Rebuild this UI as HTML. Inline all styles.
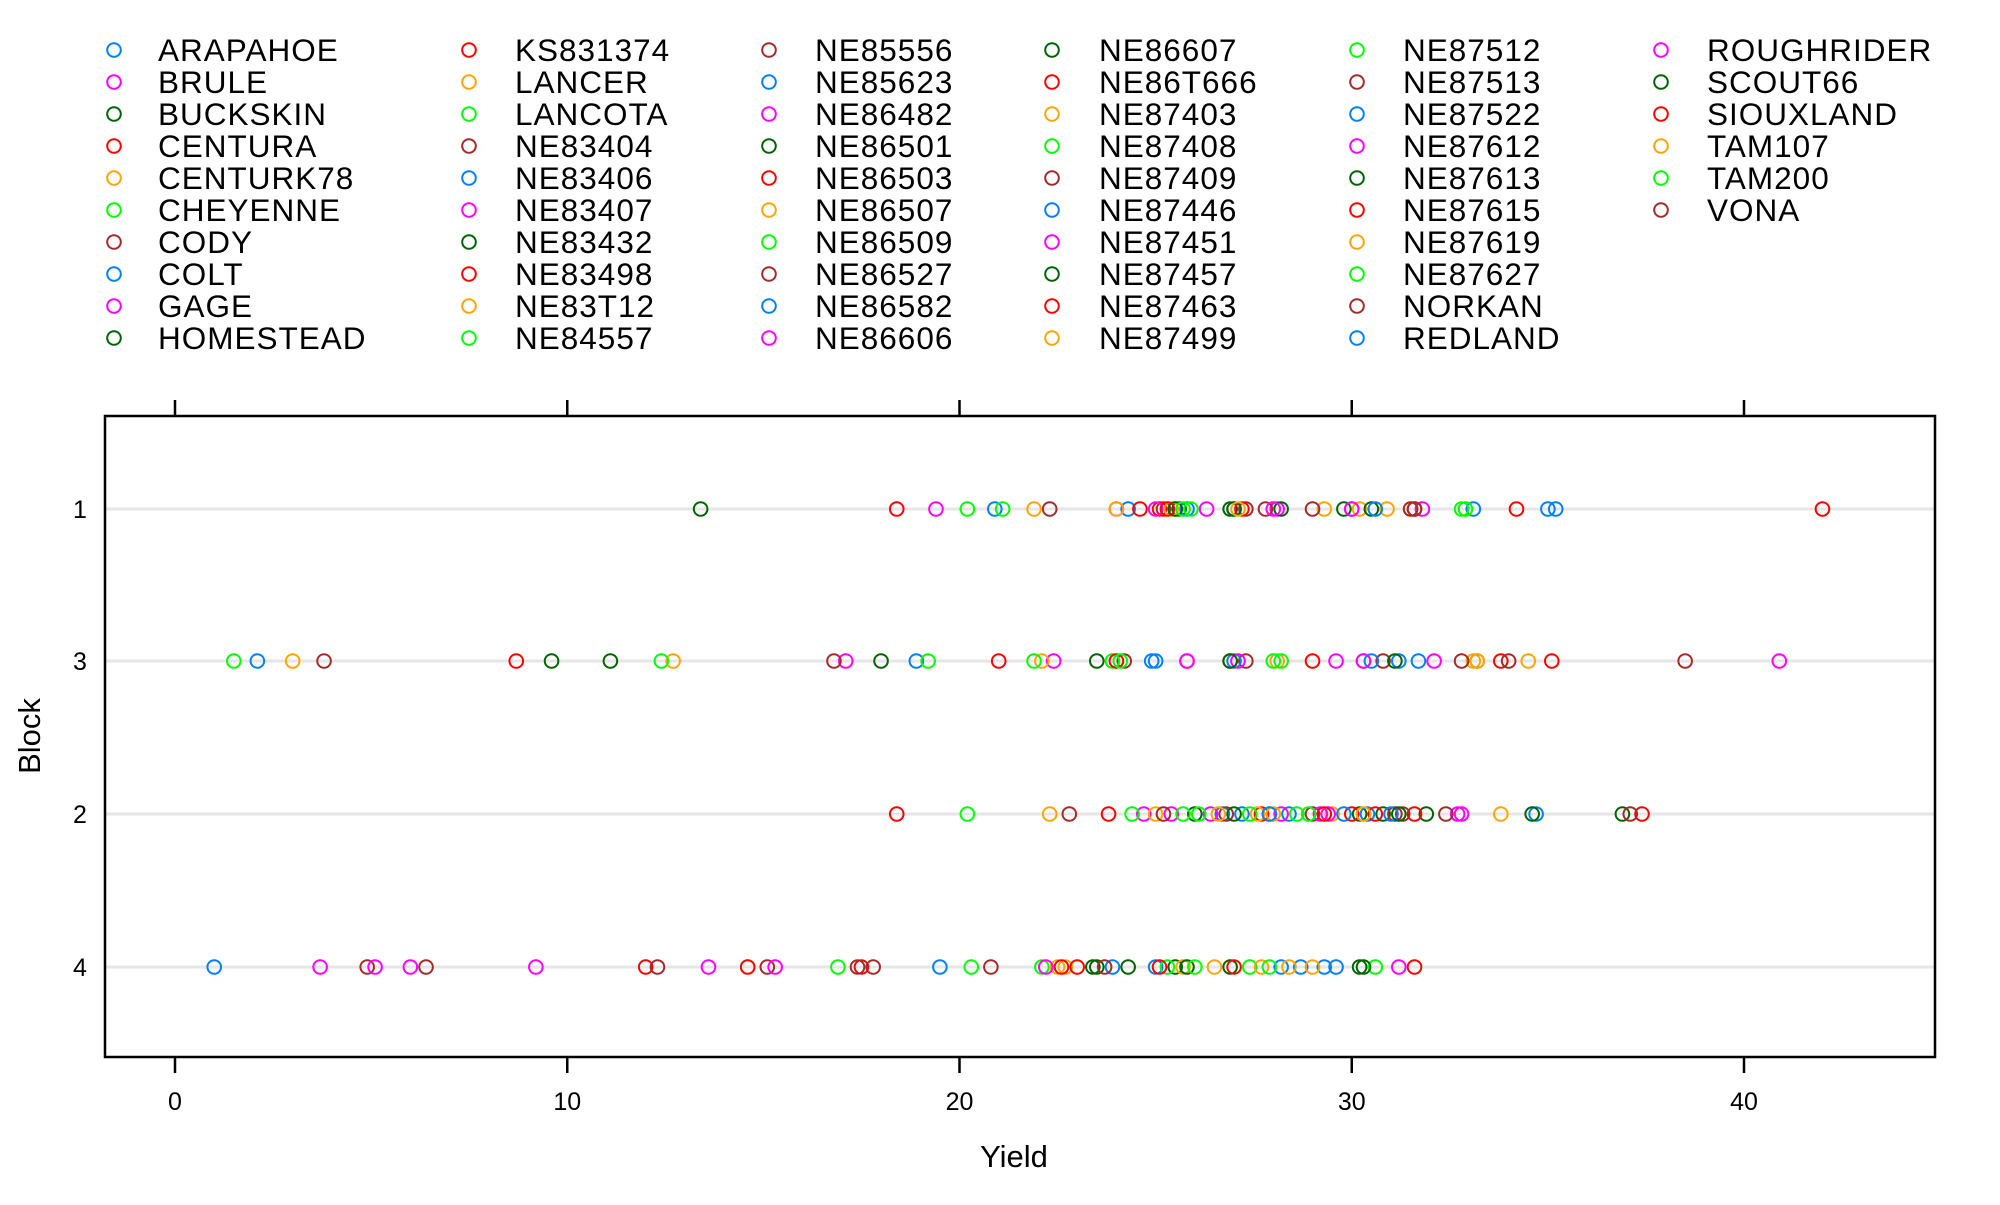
<!DOCTYPE html>
<html><head><meta charset="utf-8"><style>
html,body{margin:0;padding:0;background:#fff;}
svg text{font-family:"Liberation Sans",Arial,sans-serif;}
</style></head><body>
<svg id="chart" width="2000" height="1200" viewBox="0 0 2000 1200" xmlns="http://www.w3.org/2000/svg">
<g id="legend"></g>
<g id="grid"></g>
<g id="points"></g>
<rect x="105" y="416" width="1830" height="641" fill="none" stroke="#000" stroke-width="2.5"/>
<g id="axes"></g>
<text x="1014" y="1167" font-size="31" text-anchor="middle">Yield</text>
<text x="40" y="736" font-size="31" text-anchor="middle" transform="rotate(-90 40 736)">Block</text>
</svg>
<script>
const varieties=["ARAPAHOE","BRULE","BUCKSKIN","CENTURA","CENTURK78","CHEYENNE","CODY","COLT","GAGE","HOMESTEAD","KS831374","LANCER","LANCOTA","NE83404","NE83406","NE83407","NE83432","NE83498","NE83T12","NE84557","NE85556","NE85623","NE86482","NE86501","NE86503","NE86507","NE86509","NE86527","NE86582","NE86606","NE86607","NE86T666","NE87403","NE87408","NE87409","NE87446","NE87451","NE87457","NE87463","NE87499","NE87512","NE87513","NE87522","NE87612","NE87613","NE87615","NE87619","NE87627","NORKAN","REDLAND","ROUGHRIDER","SCOUT66","SIOUXLAND","TAM107","TAM200","VONA"];
const blocks=["1","3","2","4"];
const block1=[20.9,19.4,13.4,18.4,21.9,20.2,22.3, 24.3,24.0,25.6,24.6,24.0,21.1,25.2, 25.8,26.3,26.9,25.1,25.4,25.5,27.3, 33.1,28.1,28.2,27.2,29.3,25.9,27.8, 35.0,31.8,29.8,34.2,30.2,27.0,29.0, 35.2,28.0,30.5,42.0,30.9,32.8,30.0, 27.0,25.0,27.0,31.6,31.5,32.9,31.5, 30.6,30.0,25.5,25.3,27.1,25.7,31.6];
const block3=[2.1,17.1,9.6,8.7,3.0,1.5,3.8, 18.9,22.4,11.1,21.0,12.7,12.4,16.8, 24.9,29.6,18.0,25.8,22.1,19.2,24.2, 25.0,32.1,23.5,26.9,24.0,21.9,27.3, 27.0,40.9,30.3,29.0,28.1,23.9,30.8, 31.2,27.1,31.1,33.8,33.1,28.2,32.8, 31.7,25.8,33.2,35.1,33.2,28.0,34.0, 30.5,30.3,26.9,24.0,34.5,24.1,38.5];
const block2=[26.7,24.7,26.0,18.4,22.3,20.2,22.8, 27.2,25.4,30.2,23.8,25.0,24.4,25.2, 28.4,26.4,30.8,27.7,27.6,25.7,26.8, 30.4,28.2,31.9,30.0,29.5,26.1,29.0, 34.7,29.4,34.6,30.6,33.8,27.4,31.1, 29.8,32.7,36.9,31.6,28.0,27.9,31.3, 31.0,32.8,31.2,37.4,30.3,28.6,32.4, 27.9,29.2,27.0,29.3,26.6,28.9,37.1];
const block4=[1.0,3.7,23.4,12.0,14.6,16.9,4.9, 19.5,5.1,23.5,14.6,22.5,20.3,6.4, 23.9,6.0,24.3,17.5,22.7,22.1,12.3, 25.0,9.2,25.5,22.6,25.7,25.3,15.1, 28.2,13.6,25.8,31.6,26.5,27.4,17.4, 28.7,15.3,26.9,27.0,27.7,27.9,17.8, 29.3,22.2,30.2,25.1,28.4,30.6,20.8, 29.6,31.2,30.3,23.0,29.0,26.0,23.7];
const xTicks=[0,10,20,30,40];
const palette=["#0080ff","#ff00ff","#006400","#ff0000","#ffa500","#00ff00","#a52a2a"];

const NS="http://www.w3.org/2000/svg";
function mk(tag,attrs,parent){const e=document.createElementNS(NS,tag);for(const k in attrs)e.setAttribute(k,attrs[k]);parent.appendChild(e);return e;}
const xScale=v=>175+v*(1744-175)/40;
const rowY=[509,661,814,967];
const yScale=i=>rowY[i];

// legend
const lg=document.getElementById('legend');
const colSym=[114,469,769,1052,1357,1661];
const colTxt=[158,515,815,1099,1403,1707];
varieties.forEach((v,i)=>{
  const c=Math.floor(i/10), r=i%10, y=50+r*32;
  const g=mk('g',{},lg);
  
  
  mk('circle',{cx:colSym[c],cy:y,r:6.8,fill:'none',stroke:palette[i%7],'stroke-width':2},g);
  const t=mk('text',{x:colTxt[c],y:y+11,'font-size':31.5,'letter-spacing':1},g);
  t.textContent=v;
});

// grid
const gg=document.getElementById('grid');
blocks.forEach((b,i)=>{
  const l=mk('line',{x1:105,x2:1935,y1:yScale(i),y2:yScale(i),stroke:'#e6e6e6','stroke-width':3},gg);
  
  
});

// axes
const ax=document.getElementById('axes');
xTicks.forEach(t=>{
  const x=xScale(t);
  mk('line',{x1:x,x2:x,y1:416,y2:400,stroke:'#000','stroke-width':2.5},ax);
  mk('line',{x1:x,x2:x,y1:1057,y2:1073,stroke:'#000','stroke-width':2.5},ax);
  const tx=mk('text',{x:x,y:1110,'font-size':25,'text-anchor':'middle'},ax);
  
  
  tx.textContent=t;
});
blocks.forEach((b,i)=>{
  const tx=mk('text',{x:80,y:yScale(i)+9,'font-size':25,'text-anchor':'middle'},ax);
  
  
  tx.textContent=b;
});

// points
const pg=document.getElementById('points');
const series=[block1,block3,block2,block4];
series.forEach((arr,bi)=>{
  arr.forEach((v,i)=>{
    const c=mk('circle',{cx:xScale(v),cy:yScale(bi),r:6.8,fill:'none',stroke:palette[i%7],'stroke-width':2},pg);
    
    
  });
});
</script>
</body></html>
